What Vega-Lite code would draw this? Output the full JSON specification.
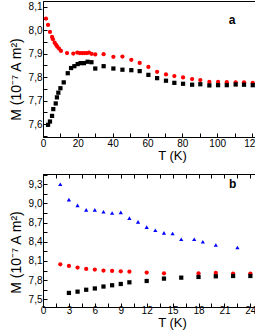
{
  "$schema": "https://vega.github.io/schema/vega-lite/v6.json",
  "padding": {"left": 8, "top": 0, "right": 0, "bottom": 0},
  "spacing": 6,
  "config": {
    "font": "Liberation Sans",
    "view": {"stroke": "black", "strokeWidth": 1},
    "axis": {"grid": false, "domainColor": "black", "tickColor": "black", "labelColor": "black", "titleColor": "black", "labelFont": "Liberation Sans", "titleFont": "Liberation Sans", "labelFontSize": 10, "titleFontSize": 13, "titleFontWeight": "normal", "tickSize": -4, "labelPadding": 5, "labelOverlap": false, "labelFlush": false}
  },
  "vconcat": [
    {
      "width": 258,
      "height": 136,
      "encoding": {
        "x": {"field": "T", "type": "quantitative", "scale": {"domain": [0, 148.1], "nice": false, "zero": false},
          "axis": {"title": "T (K)", "values": [0, 10, 20, 30, 40, 50, 60, 70, 80, 90, 100, 110, 120, 130, 140], "labelOverlap": false, "labelExpr": "datum.value % 20 == 0 ? format(datum.value, 'd') : ''", "titlePadding": 1}},
        "y": {"field": "M", "type": "quantitative", "scale": {"domain": [7.545, 8.125], "nice": false, "zero": false},
          "axis": {"title": "M (10⁻⁷ A m²)", "titleFontSize": 14, "titleY": 78, "values": [7.55, 7.6, 7.65, 7.7, 7.75, 7.8, 7.85, 7.9, 7.95, 8.0, 8.05, 8.1], "labelOverlap": false, "labelExpr": "round(datum.value*100) % 10 == 0 ? replace(format(datum.value, '.1f'), '.', ',') : ''", "titlePadding": 5}}
      },
      "layer": [
        {
          "data": {"values": [
            {"T": 1.7, "M": 8.050, "s": "red"},
            {"T": 2.9, "M": 8.023, "s": "red"},
            {"T": 4.0, "M": 7.993, "s": "red"},
            {"T": 5.2, "M": 7.972, "s": "red"},
            {"T": 5.7, "M": 7.962, "s": "red"},
            {"T": 6.7, "M": 7.947, "s": "red"},
            {"T": 7.5, "M": 7.938, "s": "red"},
            {"T": 8.2, "M": 7.930, "s": "red"},
            {"T": 9.2, "M": 7.922, "s": "red"},
            {"T": 10.3, "M": 7.912, "s": "red"},
            {"T": 13.8, "M": 7.903, "s": "red"},
            {"T": 17.4, "M": 7.901, "s": "red"},
            {"T": 19.7, "M": 7.905, "s": "red"},
            {"T": 21.1, "M": 7.903, "s": "red"},
            {"T": 22.4, "M": 7.903, "s": "red"},
            {"T": 23.7, "M": 7.903, "s": "red"},
            {"T": 25.1, "M": 7.903, "s": "red"},
            {"T": 26.4, "M": 7.905, "s": "red"},
            {"T": 27.9, "M": 7.900, "s": "red"},
            {"T": 30.0, "M": 7.897, "s": "red"},
            {"T": 34.8, "M": 7.898, "s": "red"},
            {"T": 40.4, "M": 7.887, "s": "red"},
            {"T": 45.6, "M": 7.888, "s": "red"},
            {"T": 50.7, "M": 7.874, "s": "red"},
            {"T": 55.5, "M": 7.861, "s": "red"},
            {"T": 60.5, "M": 7.844, "s": "red"},
            {"T": 65.5, "M": 7.823, "s": "red"},
            {"T": 70.6, "M": 7.812, "s": "red"},
            {"T": 75.4, "M": 7.805, "s": "red"},
            {"T": 80.4, "M": 7.799, "s": "red"},
            {"T": 85.6, "M": 7.792, "s": "red"},
            {"T": 90.3, "M": 7.788, "s": "red"},
            {"T": 95.5, "M": 7.780, "s": "red"},
            {"T": 100.5, "M": 7.780, "s": "red"},
            {"T": 105.5, "M": 7.779, "s": "red"},
            {"T": 110.6, "M": 7.778, "s": "red"},
            {"T": 115.4, "M": 7.778, "s": "red"},
            {"T": 120.4, "M": 7.776, "s": "red"},
            {"T": 2.9, "M": 7.597, "s": "black"},
            {"T": 4.0, "M": 7.611, "s": "black"},
            {"T": 5.2, "M": 7.635, "s": "black"},
            {"T": 5.9, "M": 7.664, "s": "black"},
            {"T": 7.3, "M": 7.688, "s": "black"},
            {"T": 8.0, "M": 7.714, "s": "black"},
            {"T": 8.8, "M": 7.734, "s": "black"},
            {"T": 10.0, "M": 7.753, "s": "black"},
            {"T": 11.9, "M": 7.778, "s": "black"},
            {"T": 14.2, "M": 7.817, "s": "black"},
            {"T": 16.1, "M": 7.839, "s": "black"},
            {"T": 18.0, "M": 7.847, "s": "black"},
            {"T": 19.9, "M": 7.856, "s": "black"},
            {"T": 21.6, "M": 7.860, "s": "black"},
            {"T": 23.5, "M": 7.860, "s": "black"},
            {"T": 25.6, "M": 7.866, "s": "black"},
            {"T": 27.8, "M": 7.864, "s": "black"},
            {"T": 30.0, "M": 7.837, "s": "black"},
            {"T": 34.8, "M": 7.847, "s": "black"},
            {"T": 40.4, "M": 7.837, "s": "black"},
            {"T": 45.6, "M": 7.832, "s": "black"},
            {"T": 50.7, "M": 7.830, "s": "black"},
            {"T": 55.5, "M": 7.826, "s": "black"},
            {"T": 60.5, "M": 7.810, "s": "black"},
            {"T": 65.5, "M": 7.796, "s": "black"},
            {"T": 70.6, "M": 7.785, "s": "black"},
            {"T": 75.4, "M": 7.776, "s": "black"},
            {"T": 80.4, "M": 7.772, "s": "black"},
            {"T": 85.6, "M": 7.768, "s": "black"},
            {"T": 90.3, "M": 7.770, "s": "black"},
            {"T": 95.5, "M": 7.765, "s": "black"},
            {"T": 100.5, "M": 7.766, "s": "black"},
            {"T": 105.5, "M": 7.766, "s": "black"},
            {"T": 110.6, "M": 7.769, "s": "black"},
            {"T": 115.4, "M": 7.768, "s": "black"},
            {"T": 120.4, "M": 7.766, "s": "black"}
          ]},
          "mark": {"type": "point", "filled": true, "opacity": 1, "size": 18},
          "encoding": {
            "color": {"field": "s", "type": "nominal", "scale": {"domain": ["black", "red", "blue"], "range": ["#000000", "#ff0000", "#0000ff"]}, "legend": null},
            "shape": {"field": "s", "type": "nominal", "scale": {"domain": ["black", "red", "blue"], "range": ["square", "circle", "triangle-up"]}, "legend": null}
          }
        },
        {
          "data": {"values": [{"T": 108.5, "M": 8.045, "label": "a"}]},
          "mark": {"type": "text", "fontWeight": "bold", "fontSize": 12, "font": "Liberation Sans", "color": "black"},
          "encoding": {
            "text": {"field": "label"}
          }
        }
      ]
    },
    {
      "width": 258,
      "height": 133,
      "encoding": {
        "x": {"field": "T", "type": "quantitative", "scale": {"domain": [0, 29.86], "nice": false, "zero": false},
          "axis": {"title": "T (K)", "values": [0, 1.5, 3, 4.5, 6, 7.5, 9, 10.5, 12, 13.5, 15, 16.5, 18, 19.5, 21, 22.5, 24, 25.5, 27, 28.5], "labelOverlap": false, "labelExpr": "datum.value % 3 == 0 ? format(datum.value, 'd') : ''", "titlePadding": 1, "labelPadding": 2}},
        "y": {"field": "M", "type": "quantitative", "scale": {"domain": [7.38, 9.46], "nice": false, "zero": false},
          "axis": {"title": "M (10⁻⁷ A m²)", "titleFontSize": 14, "titleY": 78, "values": [7.5, 7.65, 7.8, 7.95, 8.1, 8.25, 8.4, 8.55, 8.7, 8.85, 9.0, 9.15, 9.3, 9.45], "labelOverlap": false, "labelExpr": "round((datum.value-7.5)*100) % 30 == 0 ? replace(format(datum.value, '.1f'), '.', ',') : ''", "titlePadding": 5}}
      },
      "layer": [
        {
          "data": {"values": [
            {"T": 2, "M": 9.30, "s": "blue"},
            {"T": 3, "M": 9.06, "s": "blue"},
            {"T": 4, "M": 8.97, "s": "blue"},
            {"T": 5, "M": 8.90, "s": "blue"},
            {"T": 6, "M": 8.90, "s": "blue"},
            {"T": 7, "M": 8.87, "s": "blue"},
            {"T": 8, "M": 8.85, "s": "blue"},
            {"T": 9, "M": 8.86, "s": "blue"},
            {"T": 10, "M": 8.77, "s": "blue"},
            {"T": 11, "M": 8.71, "s": "blue"},
            {"T": 12, "M": 8.63, "s": "blue"},
            {"T": 13, "M": 8.58, "s": "blue"},
            {"T": 14, "M": 8.54, "s": "blue"},
            {"T": 15, "M": 8.53, "s": "blue"},
            {"T": 16, "M": 8.44, "s": "blue"},
            {"T": 17.5, "M": 8.44, "s": "blue"},
            {"T": 18.5, "M": 8.40, "s": "blue"},
            {"T": 20, "M": 8.35, "s": "blue"},
            {"T": 22.5, "M": 8.31, "s": "blue"},
            {"T": 2, "M": 8.048, "s": "red"},
            {"T": 3, "M": 8.022, "s": "red"},
            {"T": 4, "M": 7.996, "s": "red"},
            {"T": 5, "M": 7.975, "s": "red"},
            {"T": 6, "M": 7.965, "s": "red"},
            {"T": 7, "M": 7.949, "s": "red"},
            {"T": 8, "M": 7.944, "s": "red"},
            {"T": 9, "M": 7.938, "s": "red"},
            {"T": 10, "M": 7.933, "s": "red"},
            {"T": 12, "M": 7.918, "s": "red"},
            {"T": 14, "M": 7.907, "s": "red"},
            {"T": 18, "M": 7.907, "s": "red"},
            {"T": 20, "M": 7.912, "s": "red"},
            {"T": 22, "M": 7.902, "s": "red"},
            {"T": 24, "M": 7.902, "s": "red"},
            {"T": 3, "M": 7.60, "s": "black"},
            {"T": 4, "M": 7.62, "s": "black"},
            {"T": 5, "M": 7.65, "s": "black"},
            {"T": 6, "M": 7.67, "s": "black"},
            {"T": 7, "M": 7.70, "s": "black"},
            {"T": 8, "M": 7.72, "s": "black"},
            {"T": 9, "M": 7.74, "s": "black"},
            {"T": 10, "M": 7.766, "s": "black"},
            {"T": 12, "M": 7.787, "s": "black"},
            {"T": 14, "M": 7.824, "s": "black"},
            {"T": 16, "M": 7.839, "s": "black"},
            {"T": 18, "M": 7.850, "s": "black"},
            {"T": 20, "M": 7.860, "s": "black"},
            {"T": 22, "M": 7.865, "s": "black"},
            {"T": 24, "M": 7.865, "s": "black"}
          ]},
          "mark": {"type": "point", "filled": true, "opacity": 1, "size": 18},
          "encoding": {
            "color": {"field": "s", "type": "nominal", "scale": {"domain": ["black", "red", "blue"], "range": ["#000000", "#ff0000", "#0000ff"]}, "legend": null},
            "shape": {"field": "s", "type": "nominal", "scale": {"domain": ["black", "red", "blue"], "range": ["square", "circle", "triangle-up"]}, "legend": null},
            "size": {"field": "s", "type": "nominal", "scale": {"domain": ["black", "red", "blue"], "range": [18, 18, 26]}, "legend": null}
          }
        },
        {
          "data": {"values": [{"T": 21.96, "M": 9.30, "label": "b"}]},
          "mark": {"type": "text", "fontWeight": "bold", "fontSize": 12, "font": "Liberation Sans", "color": "black"},
          "encoding": {
            "x": {"field": "T", "type": "quantitative", "axis": {"orient": "top", "title": null, "labels": false, "values": [0, 1.5, 3, 4.5, 6, 7.5, 9, 10.5, 12, 13.5, 15, 16.5, 18, 19.5, 21, 22.5, 24, 25.5, 27, 28.5]}},
            "text": {"field": "label"}
          }
        }
      ],
      "resolve": {"axis": {"x": "independent"}}
    }
  ]
}
